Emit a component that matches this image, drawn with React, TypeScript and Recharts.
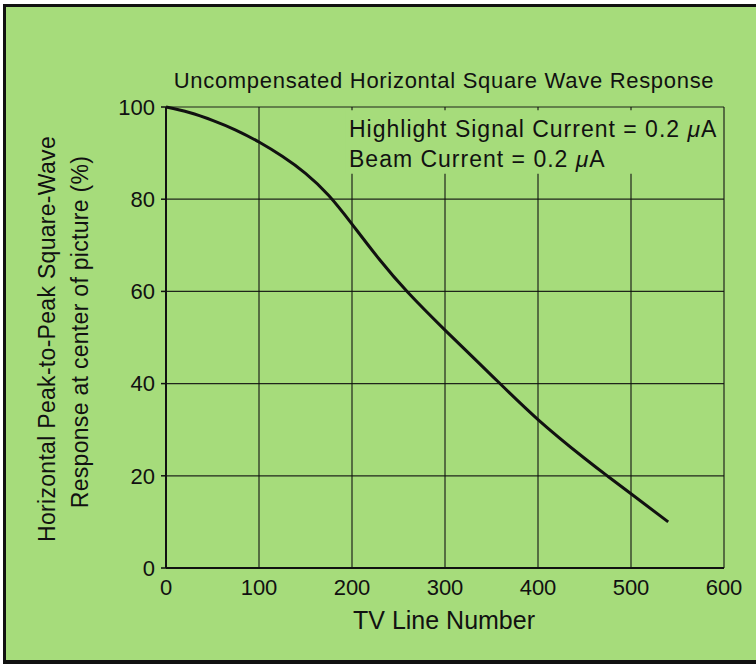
import React from "react";
import {
  LineChart,
  Line,
  XAxis,
  YAxis,
  CartesianGrid,
  ReferenceArea,
} from "recharts";

const tvLines = [0, 25, 50, 75, 100, 125, 150, 175, 200, 230, 260, 300, 350, 400, 450, 475, 500, 540];
const responsePct = [100, 98.8, 97.1, 95.0, 92.4, 89.3, 85.6, 80.8, 74.6, 66.8, 59.8, 51.6, 41.8, 32.2, 23.8, 19.9, 16.1, 10.0];
const xTicks = [0, 100, 200, 300, 400, 500, 600];
const yTicks = [0, 20, 40, 60, 80, 100];

const data = tvLines.map((x, i) => ({ x, y: responsePct[i] }));

const GREEN = "#a6dc7b";
const INK = "#111";
const FONT = "'Liberation Sans', Arial, sans-serif";

export default function App() {
  return (
    <div
      style={{
        position: "absolute",
        left: 0,
        top: 0,
        width: 756,
        height: 667,
        background: "#fff",
        fontFamily: FONT,
      }}
    >
      <div
        style={{
          position: "absolute",
          left: 3,
          top: 4,
          width: 753,
          height: 660,
          background: GREEN,
          borderLeft: `3px solid ${INK}`,
          borderTop: `3px solid ${INK}`,
          borderBottom: `4px solid ${INK}`,
          boxSizing: "border-box",
        }}
      />
      <div style={{ position: "absolute", left: 0, top: 0 }}>
        <LineChart
          width={756}
          height={667}
          data={data}
          margin={{ top: 107, right: 32, bottom: 59, left: 106 }}
        >
          <CartesianGrid stroke={INK} strokeWidth={1.2} strokeOpacity={0.9} />
          {/* the text block hides the grid behind it */}
          <ReferenceArea
            x1={193}
            x2={597}
            y1={85.5}
            y2={99.3}
            fill={GREEN}
            fillOpacity={1}
            stroke="none"
          />
          <XAxis
            type="number"
            dataKey="x"
            domain={[0, 600]}
            ticks={xTicks}
            height={40}
            axisLine={{ stroke: INK, strokeWidth: 2 }}
            tickLine={false}
            tickSize={6}
            tickMargin={5}
            tick={{ fill: INK, fontSize: 22, fontFamily: FONT }}
          />
          <YAxis
            type="number"
            domain={[0, 100]}
            ticks={yTicks}
            width={60}
            axisLine={{ stroke: INK, strokeWidth: 2 }}
            tickLine={{ stroke: INK, strokeWidth: 1.5 }}
            tickSize={5}
            tickMargin={6}
            tick={{ fill: INK, fontSize: 22, fontFamily: FONT }}
          />
          <Line
            type="natural"
            dataKey="y"
            stroke={INK}
            strokeWidth={3}
            dot={false}
            isAnimationActive={false}
          />
        </LineChart>
      </div>
      <svg
        width={756}
        height={667}
        style={{ position: "absolute", left: 0, top: 0, pointerEvents: "none" }}
        fontFamily={FONT}
        fill={INK}
      >
        <text x={444} y={88} fontSize={22} letterSpacing={0.7} textAnchor="middle">
          Uncompensated Horizontal Square Wave Response
        </text>
        <text x={349} y={137} fontSize={23} letterSpacing={1}>
          Highlight Signal Current = 0.2 <tspan fontStyle="italic">μ</tspan>A
        </text>
        <text x={349} y={167} fontSize={23} letterSpacing={1}>
          Beam Current = 0.2 <tspan fontStyle="italic">μ</tspan>A
        </text>
        <text x={444} y={629} fontSize={25} textAnchor="middle">
          TV Line Number
        </text>
        <text
          transform="translate(55,339) rotate(-90)"
          fontSize={23}
          letterSpacing={0.3}
          textAnchor="middle"
        >
          Horizontal Peak-to-Peak Square-Wave
        </text>
        <text
          transform="translate(88,332) rotate(-90)"
          fontSize={23}
          letterSpacing={0.3}
          textAnchor="middle"
        >
          Response at center of picture (%)
        </text>
      </svg>
    </div>
  );
}
